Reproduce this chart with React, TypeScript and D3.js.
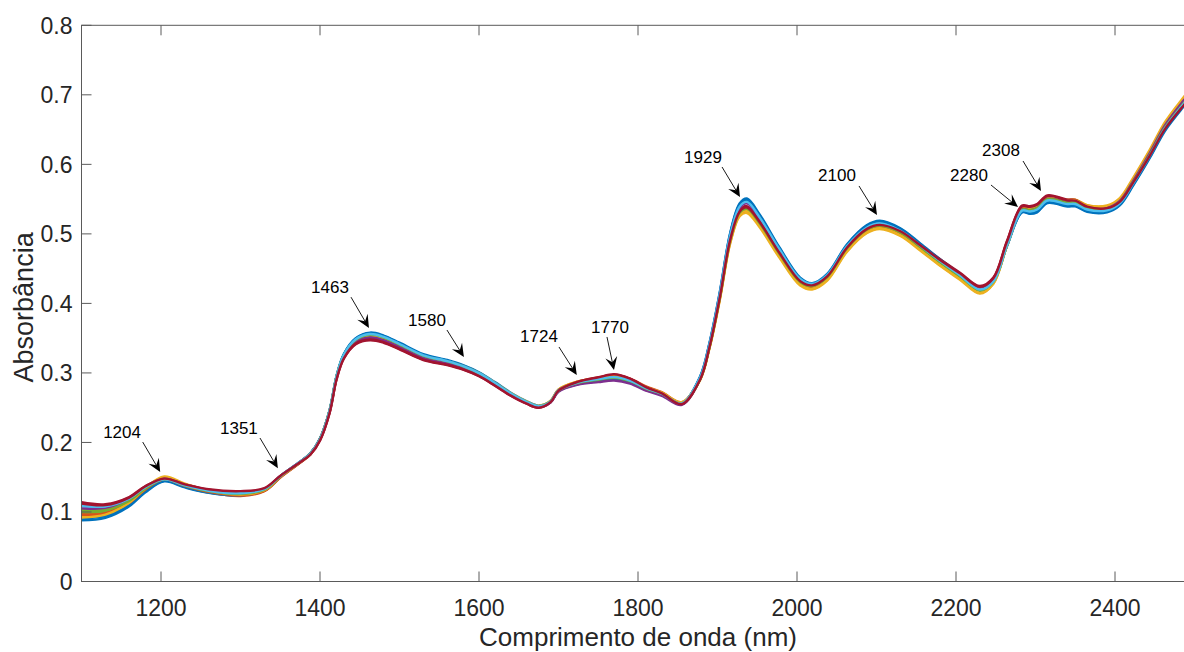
import * as d3 from 'd3';
import React, { useEffect, useRef } from 'react';

// wavelength grid (nm) and the central spectrum
const wavelengths = [
  1100, 1130, 1160, 1180, 1204, 1230, 1260, 1300, 1330, 1351, 1375, 1388, 1400, 1412, 1421, 1430, 1445,
  1463, 1480, 1500, 1530, 1560, 1580, 1600, 1620, 1640, 1660, 1675, 1690, 1700, 1724, 1750, 1770, 1790,
  1810, 1830, 1855, 1878, 1890, 1903, 1916, 1928, 1937, 1953, 1978, 2004, 2019, 2038, 2063, 2088, 2104,
  2130, 2155, 2180, 2205, 2230, 2247, 2264, 2283, 2293, 2302, 2315, 2340, 2350, 2365, 2390, 2406, 2423,
  2444, 2463, 2487, 2500
];
const baseAbs = [
  0.100, 0.101, 0.115, 0.133, 0.147, 0.138, 0.130, 0.126, 0.132, 0.152, 0.172, 0.184, 0.205, 0.245, 0.295, 0.325, 0.347,
  0.354, 0.350, 0.340, 0.324, 0.316, 0.309, 0.299, 0.285, 0.270, 0.258, 0.252, 0.259, 0.275, 0.286, 0.291, 0.294, 0.289,
  0.278, 0.270, 0.256, 0.292, 0.340, 0.412, 0.495, 0.536, 0.542, 0.520, 0.474, 0.432, 0.425, 0.438, 0.480, 0.507, 0.513,
  0.503, 0.482, 0.460, 0.440, 0.420, 0.432, 0.484, 0.535, 0.534, 0.537, 0.550, 0.545, 0.545, 0.537, 0.536, 0.546, 0.575,
  0.615, 0.654, 0.690, 0.708
];

// per-sample deviation from the central spectrum, read at a few wavelengths
const offsetAnchors = [1100, 1204, 1300, 1400, 1463, 1675, 1770, 1855, 1937, 2019, 2104, 2230, 2300, 2390, 2500];
const sampleOffsets = [
  [-0.012, -0.003, -0.002, 0, 0.004, 0.001, -0.004, 0, 0.009, 0.004, 0.006, 0.002, -0.006, -0.005, -0.006],
  [-0.002, 0, -0.003, 0, 0, 0, 0.003, 0.002, -0.010, -0.002, -0.004, 0.003, 0.004, 0.004, 0.002],
  [-0.006, 0.004, -0.001, 0, 0.001, 0.001, 0.002, 0.001, -0.012, -0.005, -0.006, -0.006, 0.003, 0.005, 0.008],
  [0.003, 0.001, 0, 0, -0.002, 0, -0.004, -0.001, 0.004, 0, 0.002, 0, -0.001, 0, 0.004],
  [0, 0, 0, 0, 0, 0, 0, 0, -0.004, 0.001, 0, -0.002, 0, 0, 0],
  [0.008, 0, 0.001, 0, 0.002, 0, 0, 0, 0.003, 0.003, 0.003, 0, -0.002, -0.002, -0.003],
  [0.014, 0.001, 0.003, -0.002, -0.007, -0.002, 0.003, 0, -0.002, 0.002, 0.001, 0.005, 0.006, 0.002, -0.004],
  [-0.009, -0.002, -0.002, 0.001, 0.003, 0, -0.003, 0, 0.007, 0.003, 0.005, 0.001, -0.005, -0.004, -0.004],
  [-0.004, 0, -0.002, -0.001, -0.004, -0.001, 0.002, 0.001, -0.007, -0.001, -0.003, 0.002, 0.002, 0.003, 0],
  [-0.008, 0.003, -0.001, 0, 0, 0, 0.001, 0.002, -0.009, -0.004, -0.005, -0.005, 0.002, 0.004, 0.006],
  [0.005, 0.001, 0.001, 0, -0.003, -0.001, -0.005, -0.002, 0.002, 0.001, 0.001, 0.001, 0, 0.001, 0.003],
  [0.002, 0, 0, 0, 0.001, 0, -0.001, 0, -0.006, 0, -0.001, -0.001, 0, 0, -0.001],
  [0.010, 0, 0.001, 0, 0.002, 0, 0, 0, 0.004, 0.003, 0.002, 0, -0.002, -0.002, -0.002],
  [0.012, 0.001, 0.004, -0.002, -0.006, -0.002, 0.004, -0.001, -0.004, 0.001, 0, 0.004, 0.005, 0.001, -0.005]
];
const lineColors = ['#0072BD', '#D95319', '#EDB120', '#7E2F8E', '#77AC30', '#4DBEEE', '#A2142F'];

const xTicks = [1200, 1400, 1600, 1800, 2000, 2200, 2400];
const yTicks = [0, 0.1, 0.2, 0.3, 0.4, 0.5, 0.6, 0.7, 0.8];

// peak labels: text position, arrow tail, arrow tip (nm, absorbance)
const peakLabels = [
  { label: '1204', tx: 1151, ty: 0.215, ax: 1177, ay: 0.2006, px: 1199, py: 0.1575 },
  { label: '1351', tx: 1298, ty: 0.221, ax: 1324.5, ay: 0.2064, px: 1347, py: 0.163 },
  { label: '1463', tx: 1412.6, ty: 0.4236, ax: 1439, ay: 0.409, px: 1461.6, py: 0.3646 },
  { label: '1580', tx: 1534.6, ty: 0.376, ax: 1559.7, ay: 0.3617, px: 1581, py: 0.323 },
  { label: '1724', tx: 1675.5, ty: 0.353, ax: 1700.6, ay: 0.3373, px: 1723, py: 0.2971 },
  { label: '1770', tx: 1764.8, ty: 0.366, ax: 1761, ay: 0.3517, px: 1769.8, py: 0.3042 },
  { label: '1929', tx: 1881.8, ty: 0.6106, ax: 1905.7, ay: 0.5962, px: 1928.3, py: 0.553 },
  { label: '2100', tx: 2050.3, ty: 0.5847, ax: 2078, ay: 0.5689, px: 2100.6, py: 0.5271 },
  { label: '2280', tx: 2216.4, ty: 0.5847, ax: 2244, ay: 0.5703, px: 2278, py: 0.5386 },
  { label: '2308', tx: 2256.6, ty: 0.6206, ax: 2284.3, ay: 0.6048, px: 2306.9, py: 0.5617 }
];

export default function App() {
  const ref = useRef<SVGSVGElement>(null);

  useEffect(() => {
    const left = 81.5;
    const top = 25.3;
    const plotW = 1113;
    const plotH = 556.2;
    const axisColor = '#5a5a5a';
    const font = 'Arial, "Liberation Sans", Helvetica, sans-serif';

    const svg = d3.select(ref.current);
    svg.selectAll('*').remove();

    const x = d3.scaleLinear().domain([1100, 2500]).range([left, left + plotW]);
    const y = d3.scaleLinear().domain([0, 0.8]).range([top + plotH, top]);

    svg
      .append('defs')
      .append('clipPath')
      .attr('id', 'plotclip')
      .append('rect')
      .attr('x', left)
      .attr('y', top)
      .attr('width', plotW)
      .attr('height', plotH);

    // spectra
    const line = d3
      .line<number>()
      .x((d, i) => x(wavelengths[i]))
      .y((d) => y(d))
      .curve(d3.curveCatmullRom.alpha(0.5));

    const lines = svg.append('g').attr('clip-path', 'url(#plotclip)');
    sampleOffsets.forEach(function (offs, k) {
      const dev = d3.scaleLinear().domain(offsetAnchors).range(offs);
      const values = baseAbs.map((v, i) => v + dev(wavelengths[i]));
      lines
        .append('path')
        .attr('d', line(values))
        .attr('fill', 'none')
        .attr('stroke', lineColors[k % lineColors.length])
        .attr('stroke-width', 2.4)
        .attr('stroke-linejoin', 'round');
    });

    // box
    const axes = svg.append('g').attr('stroke', axisColor).attr('stroke-width', 1).attr('fill', 'none');
    axes.append('rect').attr('x', left).attr('y', top).attr('width', plotW).attr('height', plotH);

    xTicks.forEach(function (t) {
      axes.append('line').attr('x1', x(t)).attr('x2', x(t)).attr('y1', top + plotH).attr('y2', top + plotH - 10);
      axes.append('line').attr('x1', x(t)).attr('x2', x(t)).attr('y1', top).attr('y2', top + 10);
    });
    yTicks.forEach(function (t) {
      axes.append('line').attr('x1', left).attr('x2', left + 10).attr('y1', y(t)).attr('y2', y(t));
      axes.append('line').attr('x1', left + plotW).attr('x2', left + plotW - 10).attr('y1', y(t)).attr('y2', y(t));
    });

    svg
      .append('g')
      .selectAll('text')
      .data(xTicks)
      .enter()
      .append('text')
      .attr('x', (d) => x(d))
      .attr('y', top + plotH + 34.5)
      .attr('text-anchor', 'middle')
      .attr('font-family', font)
      .attr('font-size', 23)
      .attr('fill', '#262626')
      .text((d) => String(d));

    svg
      .append('g')
      .selectAll('text')
      .data(yTicks)
      .enter()
      .append('text')
      .attr('x', left - 9)
      .attr('y', (d) => y(d))
      .attr('dy', '0.36em')
      .attr('text-anchor', 'end')
      .attr('font-family', font)
      .attr('font-size', 23)
      .attr('fill', '#262626')
      .text((d) => (d === 0 ? '0' : d3.format('.1f')(d)));

    svg
      .append('text')
      .attr('x', left + plotW / 2)
      .attr('y', 646)
      .attr('text-anchor', 'middle')
      .attr('font-family', font)
      .attr('font-size', 26)
      .attr('fill', '#262626')
      .text('Comprimento de onda (nm)');

    svg
      .append('text')
      .attr('transform', 'translate(33,' + (top + plotH / 2 + 4) + ') rotate(-90)')
      .attr('text-anchor', 'middle')
      .attr('font-family', font)
      .attr('font-size', 27)
      .attr('fill', '#262626')
      .text('Absorbância');

    // peak annotations
    const ann = svg.append('g');
    peakLabels.forEach(function (p) {
      const x1 = x(p.ax);
      const y1 = y(p.ay);
      const x2 = x(p.px);
      const y2 = y(p.py);
      const ang = Math.atan2(y2 - y1, x2 - x1);
      const headLen = 13;
      const headW = 12;
      const bx = x2 - Math.cos(ang) * headLen * 0.6;
      const by = y2 - Math.sin(ang) * headLen * 0.6;

      ann
        .append('line')
        .attr('x1', x1)
        .attr('y1', y1)
        .attr('x2', bx)
        .attr('y2', by)
        .attr('stroke', '#1a1a1a')
        .attr('stroke-width', 1);

      ann
        .append('path')
        .attr('d', 'M0,0 L' + -headLen + ',' + -headW / 2 + ' L' + -headLen * 0.6 + ',0 L' + -headLen + ',' + headW / 2 + ' Z')
        .attr('transform', 'translate(' + x2 + ',' + y2 + ') rotate(' + (ang * 180) / Math.PI + ')')
        .attr('fill', '#000');

      ann
        .append('text')
        .attr('x', x(p.tx))
        .attr('y', y(p.ty))
        .attr('dy', '0.36em')
        .attr('text-anchor', 'middle')
        .attr('font-family', font)
        .attr('font-size', 17)
        .attr('fill', '#000')
        .text(p.label);
    });
  }, []);

  return (
    <svg
      ref={ref}
      width={1184}
      height={652}
      style={{ position: 'absolute', left: 0, top: 0, background: '#fff' }}
    />
  );
}
